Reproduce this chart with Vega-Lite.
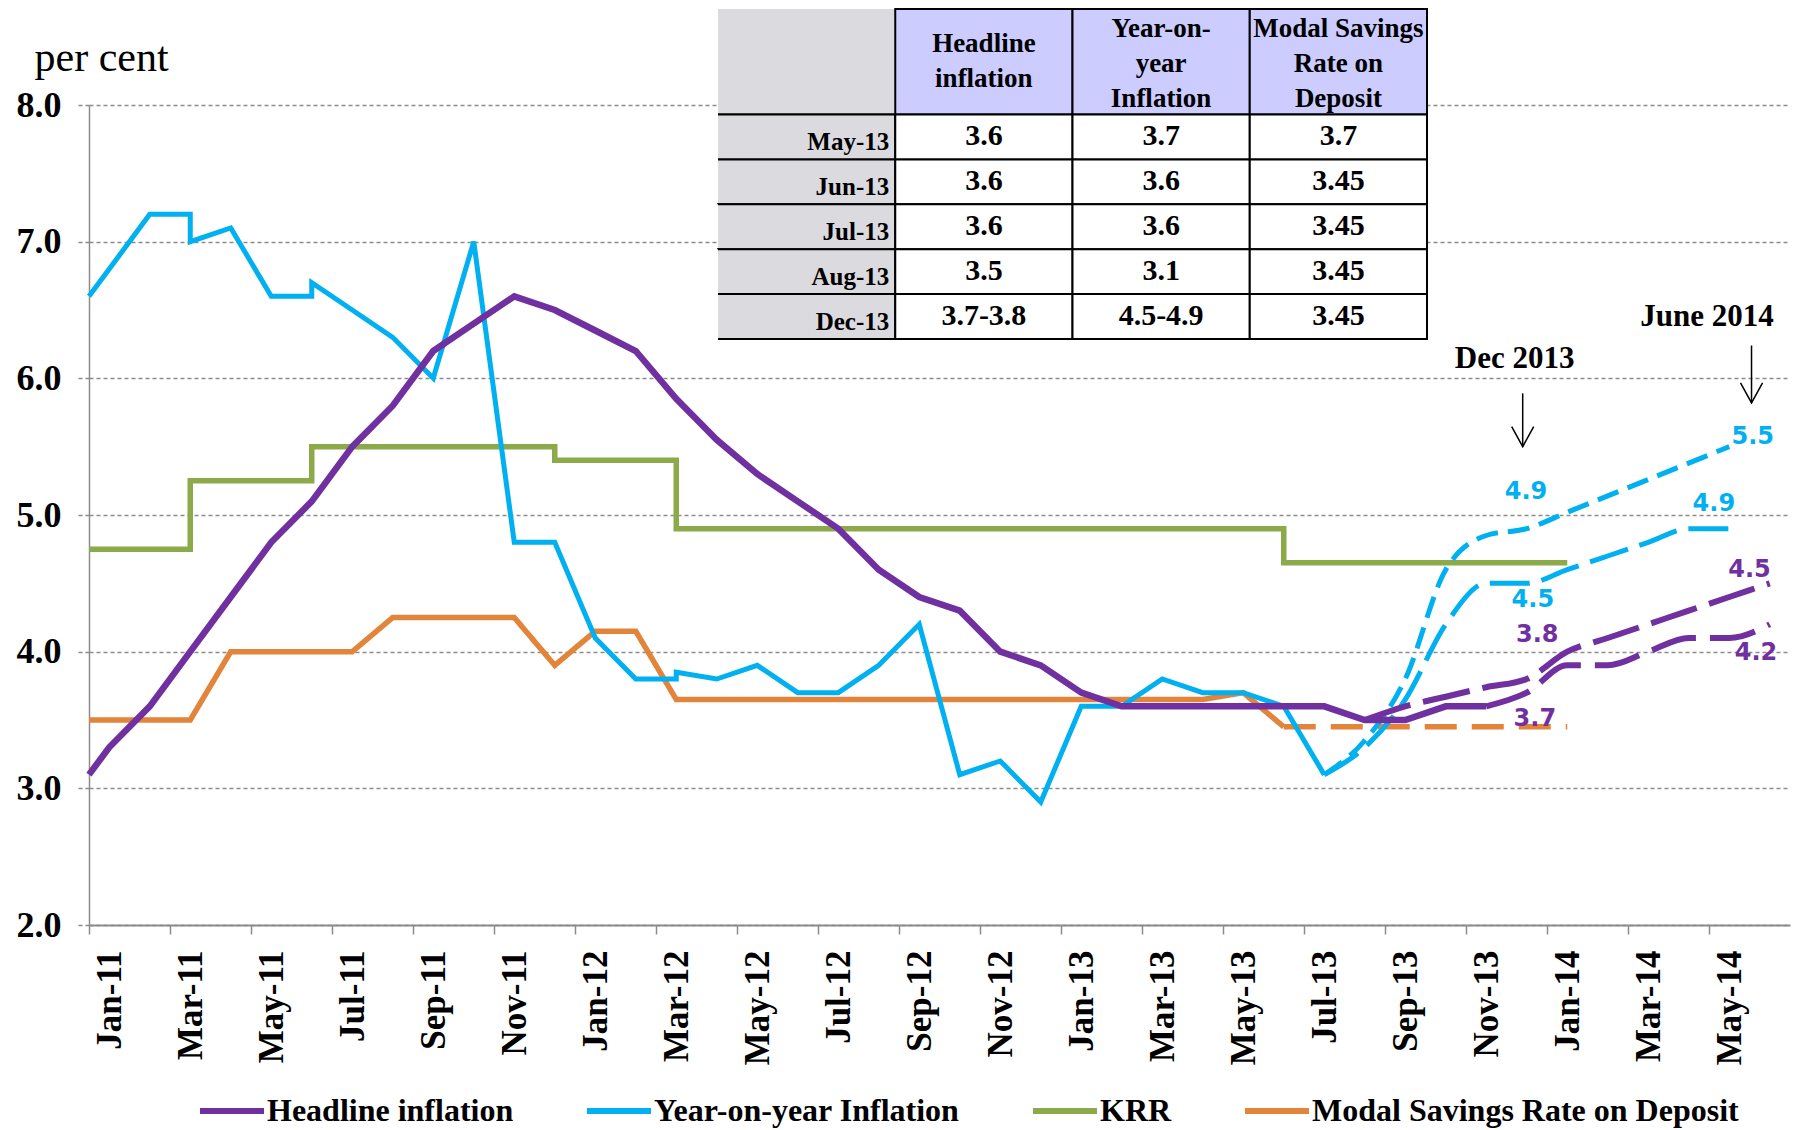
{
  "$schema": "https://vega.github.io/schema/vega-lite/v6.json",
  "width": 1701,
  "height": 820,
  "autosize": {"type": "none"},
  "padding": {"left": 89, "top": 105, "right": 5, "bottom": 205},
  "background": "#ffffff",
  "config": {
    "view": {"stroke": null},
    "font": "Liberation Serif",
    "axis": {"labelFont": "Liberation Serif", "labelFontWeight": "bold", "labelColor": "#000000", "titleColor": "#000000"}
  },
  "datasets": {
    "headline": [
      {"series": "Headline inflation", "t": 0, "v": 3.1},
      {"series": "Headline inflation", "t": 0.5, "v": 3.3},
      {"series": "Headline inflation", "t": 1.5, "v": 3.6},
      {"series": "Headline inflation", "t": 2.5, "v": 4.0},
      {"series": "Headline inflation", "t": 3.5, "v": 4.4},
      {"series": "Headline inflation", "t": 4.5, "v": 4.8},
      {"series": "Headline inflation", "t": 5.5, "v": 5.1},
      {"series": "Headline inflation", "t": 6.5, "v": 5.5},
      {"series": "Headline inflation", "t": 7.5, "v": 5.8},
      {"series": "Headline inflation", "t": 8.5, "v": 6.2},
      {"series": "Headline inflation", "t": 9.5, "v": 6.4},
      {"series": "Headline inflation", "t": 10.5, "v": 6.6},
      {"series": "Headline inflation", "t": 11.5, "v": 6.5},
      {"series": "Headline inflation", "t": 12.5, "v": 6.35},
      {"series": "Headline inflation", "t": 13.5, "v": 6.2},
      {"series": "Headline inflation", "t": 14.5, "v": 5.85},
      {"series": "Headline inflation", "t": 15.5, "v": 5.55},
      {"series": "Headline inflation", "t": 16.5, "v": 5.3},
      {"series": "Headline inflation", "t": 17.5, "v": 5.1},
      {"series": "Headline inflation", "t": 18.5, "v": 4.9},
      {"series": "Headline inflation", "t": 19.5, "v": 4.6},
      {"series": "Headline inflation", "t": 20.5, "v": 4.4},
      {"series": "Headline inflation", "t": 21.5, "v": 4.3},
      {"series": "Headline inflation", "t": 22.5, "v": 4.0},
      {"series": "Headline inflation", "t": 23.5, "v": 3.9},
      {"series": "Headline inflation", "t": 24.5, "v": 3.7},
      {"series": "Headline inflation", "t": 25.5, "v": 3.6},
      {"series": "Headline inflation", "t": 26.5, "v": 3.6},
      {"series": "Headline inflation", "t": 27.5, "v": 3.6},
      {"series": "Headline inflation", "t": 28.5, "v": 3.6},
      {"series": "Headline inflation", "t": 29.5, "v": 3.6},
      {"series": "Headline inflation", "t": 30.5, "v": 3.6},
      {"series": "Headline inflation", "t": 31.5, "v": 3.5},
      {"series": "Headline inflation", "t": 32.5, "v": 3.5},
      {"series": "Headline inflation", "t": 33.5, "v": 3.6},
      {"series": "Headline inflation", "t": 34.5, "v": 3.6}
    ],
    "headline_fc": [
      {"series": "Headline inflation", "path": "lower", "t": 34.5, "v": 3.6},
      {"series": "Headline inflation", "path": "lower", "t": 35.5, "v": 3.7},
      {"series": "Headline inflation", "path": "lower", "t": 36.5, "v": 3.9},
      {"series": "Headline inflation", "path": "lower", "t": 37.5, "v": 3.9},
      {"series": "Headline inflation", "path": "lower", "t": 38.5, "v": 4.0},
      {"series": "Headline inflation", "path": "lower", "t": 39.5, "v": 4.1},
      {"series": "Headline inflation", "path": "lower", "t": 40.5, "v": 4.1},
      {"series": "Headline inflation", "path": "lower", "t": 41.5, "v": 4.2},
      {"series": "Headline inflation", "path": "upper", "t": 31.5, "v": 3.5},
      {"series": "Headline inflation", "path": "upper", "t": 32.5, "v": 3.6},
      {"series": "Headline inflation", "path": "upper", "t": 33.5, "v": 3.67},
      {"series": "Headline inflation", "path": "upper", "t": 34.5, "v": 3.74},
      {"series": "Headline inflation", "path": "upper", "t": 35.5, "v": 3.8},
      {"series": "Headline inflation", "path": "upper", "t": 36.5, "v": 4.0},
      {"series": "Headline inflation", "path": "upper", "t": 37.5, "v": 4.1},
      {"series": "Headline inflation", "path": "upper", "t": 38.5, "v": 4.2},
      {"series": "Headline inflation", "path": "upper", "t": 39.5, "v": 4.3},
      {"series": "Headline inflation", "path": "upper", "t": 40.5, "v": 4.4},
      {"series": "Headline inflation", "path": "upper", "t": 41.5, "v": 4.5}
    ],
    "yoy": [
      {"series": "Year-on-year Inflation", "t": 0, "v": 6.6},
      {"series": "Year-on-year Inflation", "t": 1.5, "v": 7.2},
      {"series": "Year-on-year Inflation", "t": 2.5, "v": 7.2},
      {"series": "Year-on-year Inflation", "t": 2.5, "v": 7.0},
      {"series": "Year-on-year Inflation", "t": 3.5, "v": 7.1},
      {"series": "Year-on-year Inflation", "t": 4.5, "v": 6.6},
      {"series": "Year-on-year Inflation", "t": 5.5, "v": 6.6},
      {"series": "Year-on-year Inflation", "t": 5.5, "v": 6.7},
      {"series": "Year-on-year Inflation", "t": 6.5, "v": 6.5},
      {"series": "Year-on-year Inflation", "t": 7.5, "v": 6.3},
      {"series": "Year-on-year Inflation", "t": 8.5, "v": 6.0},
      {"series": "Year-on-year Inflation", "t": 9.5, "v": 7.0},
      {"series": "Year-on-year Inflation", "t": 10.5, "v": 4.8},
      {"series": "Year-on-year Inflation", "t": 11.5, "v": 4.8},
      {"series": "Year-on-year Inflation", "t": 12.5, "v": 4.1},
      {"series": "Year-on-year Inflation", "t": 13.5, "v": 3.8},
      {"series": "Year-on-year Inflation", "t": 14.5, "v": 3.8},
      {"series": "Year-on-year Inflation", "t": 14.5, "v": 3.85},
      {"series": "Year-on-year Inflation", "t": 15.5, "v": 3.8},
      {"series": "Year-on-year Inflation", "t": 16.5, "v": 3.9},
      {"series": "Year-on-year Inflation", "t": 17.5, "v": 3.7},
      {"series": "Year-on-year Inflation", "t": 18.5, "v": 3.7},
      {"series": "Year-on-year Inflation", "t": 19.5, "v": 3.9},
      {"series": "Year-on-year Inflation", "t": 20.5, "v": 4.2},
      {"series": "Year-on-year Inflation", "t": 21.5, "v": 3.1},
      {"series": "Year-on-year Inflation", "t": 22.5, "v": 3.2},
      {"series": "Year-on-year Inflation", "t": 23.5, "v": 2.9},
      {"series": "Year-on-year Inflation", "t": 24.5, "v": 3.6},
      {"series": "Year-on-year Inflation", "t": 25.5, "v": 3.6},
      {"series": "Year-on-year Inflation", "t": 26.5, "v": 3.8},
      {"series": "Year-on-year Inflation", "t": 27.5, "v": 3.7},
      {"series": "Year-on-year Inflation", "t": 28.5, "v": 3.7},
      {"series": "Year-on-year Inflation", "t": 29.5, "v": 3.6},
      {"series": "Year-on-year Inflation", "t": 30.5, "v": 3.1}
    ],
    "yoy_fc": [
      {"series": "Year-on-year Inflation", "path": "upper", "t": 30.5, "v": 3.1},
      {"series": "Year-on-year Inflation", "path": "upper", "t": 31.5, "v": 3.35},
      {"series": "Year-on-year Inflation", "path": "upper", "t": 32.5, "v": 3.8},
      {"series": "Year-on-year Inflation", "path": "upper", "t": 33.5, "v": 4.6},
      {"series": "Year-on-year Inflation", "path": "upper", "t": 34.5, "v": 4.85},
      {"series": "Year-on-year Inflation", "path": "upper", "t": 35.5, "v": 4.9},
      {"series": "Year-on-year Inflation", "path": "upper", "t": 36.5, "v": 5.02},
      {"series": "Year-on-year Inflation", "path": "upper", "t": 37.5, "v": 5.14},
      {"series": "Year-on-year Inflation", "path": "upper", "t": 38.5, "v": 5.26},
      {"series": "Year-on-year Inflation", "path": "upper", "t": 39.5, "v": 5.38},
      {"series": "Year-on-year Inflation", "path": "upper", "t": 40.5, "v": 5.5},
      {"series": "Year-on-year Inflation", "path": "lower", "t": 30.5, "v": 3.1},
      {"series": "Year-on-year Inflation", "path": "lower", "t": 31.5, "v": 3.3},
      {"series": "Year-on-year Inflation", "path": "lower", "t": 32.5, "v": 3.65},
      {"series": "Year-on-year Inflation", "path": "lower", "t": 33.5, "v": 4.2},
      {"series": "Year-on-year Inflation", "path": "lower", "t": 34.5, "v": 4.5},
      {"series": "Year-on-year Inflation", "path": "lower", "t": 35.5, "v": 4.5},
      {"series": "Year-on-year Inflation", "path": "lower", "t": 36.5, "v": 4.6},
      {"series": "Year-on-year Inflation", "path": "lower", "t": 37.5, "v": 4.7},
      {"series": "Year-on-year Inflation", "path": "lower", "t": 38.5, "v": 4.8},
      {"series": "Year-on-year Inflation", "path": "lower", "t": 39.5, "v": 4.9},
      {"series": "Year-on-year Inflation", "path": "lower", "t": 40.5, "v": 4.9}
    ],
    "krr": [
      {"series": "KRR", "t": 0, "v": 4.75},
      {"series": "KRR", "t": 2.5, "v": 5.25},
      {"series": "KRR", "t": 5.5, "v": 5.5},
      {"series": "KRR", "t": 11.5, "v": 5.4},
      {"series": "KRR", "t": 14.5, "v": 4.9},
      {"series": "KRR", "t": 29.5, "v": 4.65},
      {"series": "KRR", "t": 36.5, "v": 4.65}
    ],
    "savings": [
      {"series": "Modal Savings Rate on Deposit", "part": "actual", "t": 0, "v": 3.5},
      {"series": "Modal Savings Rate on Deposit", "part": "actual", "t": 2.5, "v": 3.5},
      {"series": "Modal Savings Rate on Deposit", "part": "actual", "t": 3.5, "v": 4.0},
      {"series": "Modal Savings Rate on Deposit", "part": "actual", "t": 6.5, "v": 4.0},
      {"series": "Modal Savings Rate on Deposit", "part": "actual", "t": 7.5, "v": 4.25},
      {"series": "Modal Savings Rate on Deposit", "part": "actual", "t": 10.5, "v": 4.25},
      {"series": "Modal Savings Rate on Deposit", "part": "actual", "t": 11.5, "v": 3.9},
      {"series": "Modal Savings Rate on Deposit", "part": "actual", "t": 12.5, "v": 4.15},
      {"series": "Modal Savings Rate on Deposit", "part": "actual", "t": 13.5, "v": 4.15},
      {"series": "Modal Savings Rate on Deposit", "part": "actual", "t": 14.5, "v": 3.65},
      {"series": "Modal Savings Rate on Deposit", "part": "actual", "t": 27.5, "v": 3.65},
      {"series": "Modal Savings Rate on Deposit", "part": "actual", "t": 28.5, "v": 3.7},
      {"series": "Modal Savings Rate on Deposit", "part": "actual", "t": 29.5, "v": 3.45},
      {"series": "Modal Savings Rate on Deposit", "part": "projected", "t": 29.5, "v": 3.45},
      {"series": "Modal Savings Rate on Deposit", "part": "projected", "t": 36.5, "v": 3.45}
    ],
    "arrows": [
      {"label": "Dec 2013", "t": 35.4, "v": 5.5, "top": 5.89},
      {"label": "June 2014", "t": 41.05, "v": 5.82, "top": 6.24}
    ],
    "captions": [
      {"label": "Dec 2013", "t": 35.2, "v": 6.14},
      {"label": "June 2014", "t": 39.95, "v": 6.45}
    ],
    "value_labels": [
      {"series": "Year-on-year Inflation", "text": "4.9", "t": 35.48, "v": 5.17},
      {"series": "Year-on-year Inflation", "text": "5.5", "t": 41.08, "v": 5.57},
      {"series": "Year-on-year Inflation", "text": "4.9", "t": 40.12, "v": 5.08},
      {"series": "Year-on-year Inflation", "text": "4.5", "t": 35.65, "v": 4.38},
      {"series": "Headline inflation", "text": "3.8", "t": 35.76, "v": 4.12},
      {"series": "Headline inflation", "text": "4.5", "t": 41.0, "v": 4.6},
      {"series": "Headline inflation", "text": "4.2", "t": 41.16, "v": 3.99},
      {"series": "Headline inflation", "text": "3.7", "t": 35.7, "v": 3.51}
    ],
    "table_head": [
      {"row": "Header", "col": "Month", "text": ""},
      {"row": "Header", "col": "Headline", "text": "Headline\ninflation"},
      {"row": "Header", "col": "YoY", "text": "Year-on-\nyear\nInflation"},
      {"row": "Header", "col": "Savings", "text": "Modal Savings\nRate on\nDeposit"}
    ],
    "table_cells": [
      {"row": "May-13", "col": "Month", "text": "May-13"},
      {"row": "May-13", "col": "Headline", "text": "3.6"},
      {"row": "May-13", "col": "YoY", "text": "3.7"},
      {"row": "May-13", "col": "Savings", "text": "3.7"},
      {"row": "Jun-13", "col": "Month", "text": "Jun-13"},
      {"row": "Jun-13", "col": "Headline", "text": "3.6"},
      {"row": "Jun-13", "col": "YoY", "text": "3.6"},
      {"row": "Jun-13", "col": "Savings", "text": "3.45"},
      {"row": "Jul-13", "col": "Month", "text": "Jul-13"},
      {"row": "Jul-13", "col": "Headline", "text": "3.6"},
      {"row": "Jul-13", "col": "YoY", "text": "3.6"},
      {"row": "Jul-13", "col": "Savings", "text": "3.45"},
      {"row": "Aug-13", "col": "Month", "text": "Aug-13"},
      {"row": "Aug-13", "col": "Headline", "text": "3.5"},
      {"row": "Aug-13", "col": "YoY", "text": "3.1"},
      {"row": "Aug-13", "col": "Savings", "text": "3.45"},
      {"row": "Dec-13", "col": "Month", "text": "Dec-13"},
      {"row": "Dec-13", "col": "Headline", "text": "3.7-3.8"},
      {"row": "Dec-13", "col": "YoY", "text": "4.5-4.9"},
      {"row": "Dec-13", "col": "Savings", "text": "3.45"}
    ]
  },
  "layer": [
    {
      "encoding": {
        "x": {
          "field": "t", "type": "quantitative",
          "scale": {"domain": [0, 42], "nice": false, "zero": false},
          "axis": {
            "title": null,
            "values": [0, 2, 4, 6, 8, 10, 12, 14, 16, 18, 20, 22, 24, 26, 28, 30, 32, 34, 36, 38, 40],
            "labelExpr": "['Jan','Feb','Mar','Apr','May','Jun','Jul','Aug','Sep','Oct','Nov','Dec'][datum.value % 12] + '-' + (11 + floor(datum.value / 12))",
            "labelAngle": -90,
            "labelOffset": 20,
            "labelPadding": 16,
            "labelFontSize": 35,
            "labelOverlap": false,
            "labelFlush": false,
            "labelBound": false,
            "grid": false,
            "tickSize": 9,
            "tickColor": "#8c8c8c",
            "tickWidth": 1.5,
            "domainColor": "#8c8c8c",
            "domainWidth": 2
          }
        },
        "y": {
          "field": "v", "type": "quantitative",
          "scale": {"domain": [2, 8], "nice": false, "zero": false},
          "axis": {
            "values": [2, 3, 4, 5, 6, 7, 8],
            "format": ".1f",
            "labelFontSize": 36,
            "labelPadding": 17,
            "tickSize": 11,
            "tickDash": [4, 3],
            "tickColor": "#8c8c8c",
            "tickWidth": 1.5,
            "grid": true,
            "gridColor": "#8c8c8c",
            "gridDash": [4, 3],
            "gridWidth": 1.5,
            "domainColor": "#8c8c8c",
            "domainWidth": 1.5,
            "title": "per cent",
            "titleFont": "Liberation Serif",
            "titleFontWeight": "normal",
            "titleFontSize": 42,
            "titleAngle": 0,
            "titleAlign": "left",
            "titleBaseline": "alphabetic",
            "titleX": -55,
            "titleY": -35
          }
        }
      },
      "layer": [
        {
          "data": {"name": "krr"},
          "mark": {"type": "line", "interpolate": "step-after", "strokeWidth": 5.5},
          "encoding": {
            "color": {
              "field": "series", "type": "nominal",
              "scale": {"domain": ["Headline inflation", "Year-on-year Inflation", "KRR", "Modal Savings Rate on Deposit"], "range": ["#7030A0", "#00B0F0", "#8CAA4A", "#E2843A"]},
              "legend": {"orient": "none", "legendX": 108, "legendY": 971, "direction": "horizontal", "title": null, "symbolType": "stroke", "symbolSize": 4096, "symbolStrokeWidth": 6, "labelFont": "Liberation Serif", "labelFontWeight": "bold", "labelFontSize": 32, "labelColor": "#000000", "labelOffset": 0, "columnPadding": 61, "labelLimit": 600, "padding": 0}
            }
          }
        },
        {
          "data": {"name": "savings"},
          "mark": {"type": "line", "strokeWidth": 5.5},
          "encoding": {
            "detail": {"field": "part"},
            "strokeDash": {"field": "part", "type": "nominal", "scale": {"domain": ["actual", "projected"], "range": [[1, 0], [32, 15]]}, "legend": null},
            "color": {
              "field": "series", "type": "nominal",
              "scale": {"domain": ["Headline inflation", "Year-on-year Inflation", "KRR", "Modal Savings Rate on Deposit"], "range": ["#7030A0", "#00B0F0", "#8CAA4A", "#E2843A"]},
              "legend": {"orient": "none", "legendX": 108, "legendY": 971, "direction": "horizontal", "title": null, "symbolType": "stroke", "symbolSize": 4096, "symbolStrokeWidth": 6, "labelFont": "Liberation Serif", "labelFontWeight": "bold", "labelFontSize": 32, "labelColor": "#000000", "labelOffset": 0, "columnPadding": 61, "labelLimit": 600, "padding": 0}
            }
          }
        },
        {
          "data": {"name": "yoy"},
          "mark": {"type": "line", "strokeWidth": 5},
          "encoding": {
            "order": {"value": null},
            "color": {
              "field": "series", "type": "nominal",
              "scale": {"domain": ["Headline inflation", "Year-on-year Inflation", "KRR", "Modal Savings Rate on Deposit"], "range": ["#7030A0", "#00B0F0", "#8CAA4A", "#E2843A"]},
              "legend": {"orient": "none", "legendX": 108, "legendY": 971, "direction": "horizontal", "title": null, "symbolType": "stroke", "symbolSize": 4096, "symbolStrokeWidth": 6, "labelFont": "Liberation Serif", "labelFontWeight": "bold", "labelFontSize": 32, "labelColor": "#000000", "labelOffset": 0, "columnPadding": 61, "labelLimit": 600, "padding": 0}
            }
          }
        },
        {
          "data": {"name": "yoy_fc"},
          "mark": {"type": "line", "interpolate": "monotone", "strokeWidth": 5},
          "encoding": {
            "detail": {"field": "path"},
            "strokeDash": {"field": "path", "type": "nominal", "scale": {"domain": ["upper", "lower"], "range": [[22, 10], [40, 12]]}, "legend": null},
            "color": {
              "field": "series", "type": "nominal",
              "scale": {"domain": ["Headline inflation", "Year-on-year Inflation", "KRR", "Modal Savings Rate on Deposit"], "range": ["#7030A0", "#00B0F0", "#8CAA4A", "#E2843A"]},
              "legend": {"orient": "none", "legendX": 108, "legendY": 971, "direction": "horizontal", "title": null, "symbolType": "stroke", "symbolSize": 4096, "symbolStrokeWidth": 6, "labelFont": "Liberation Serif", "labelFontWeight": "bold", "labelFontSize": 32, "labelColor": "#000000", "labelOffset": 0, "columnPadding": 61, "labelLimit": 600, "padding": 0}
            }
          }
        },
        {
          "data": {"name": "headline"},
          "mark": {"type": "line", "strokeWidth": 6.5},
          "encoding": {
            "color": {
              "field": "series", "type": "nominal",
              "scale": {"domain": ["Headline inflation", "Year-on-year Inflation", "KRR", "Modal Savings Rate on Deposit"], "range": ["#7030A0", "#00B0F0", "#8CAA4A", "#E2843A"]},
              "legend": {"orient": "none", "legendX": 108, "legendY": 971, "direction": "horizontal", "title": null, "symbolType": "stroke", "symbolSize": 4096, "symbolStrokeWidth": 6, "labelFont": "Liberation Serif", "labelFontWeight": "bold", "labelFontSize": 32, "labelColor": "#000000", "labelOffset": 0, "columnPadding": 61, "labelLimit": 600, "padding": 0}
            }
          }
        },
        {
          "data": {"name": "headline_fc"},
          "mark": {"type": "line", "interpolate": "monotone", "strokeWidth": 6},
          "encoding": {
            "detail": {"field": "path"},
            "strokeDash": {"field": "path", "type": "nominal", "scale": {"domain": ["upper", "lower"], "range": [[48, 13], [46, 14]]}, "legend": null},
            "color": {
              "field": "series", "type": "nominal",
              "scale": {"domain": ["Headline inflation", "Year-on-year Inflation", "KRR", "Modal Savings Rate on Deposit"], "range": ["#7030A0", "#00B0F0", "#8CAA4A", "#E2843A"]},
              "legend": {"orient": "none", "legendX": 108, "legendY": 971, "direction": "horizontal", "title": null, "symbolType": "stroke", "symbolSize": 4096, "symbolStrokeWidth": 6, "labelFont": "Liberation Serif", "labelFontWeight": "bold", "labelFontSize": 32, "labelColor": "#000000", "labelOffset": 0, "columnPadding": 61, "labelLimit": 600, "padding": 0}
            }
          }
        },
        {
          "data": {"name": "arrows"},
          "mark": {"type": "rule", "color": "#000000", "strokeWidth": 1.5},
          "encoding": {"y2": {"field": "top"}}
        },
        {
          "data": {"name": "arrows"},
          "mark": {"type": "point", "shape": "M-0.55,-1L0,0L0.55,-1", "filled": false, "stroke": "#000000", "strokeWidth": 1.5, "size": 1600, "opacity": 1}
        },
        {
          "data": {"name": "captions"},
          "mark": {"type": "text", "font": "Liberation Serif", "fontWeight": "bold", "fontSize": 31, "color": "#000000", "align": "center", "baseline": "middle"},
          "encoding": {"text": {"field": "label"}}
        },
        {
          "data": {"name": "value_labels"},
          "transform": [{"filter": "datum.series === 'Year-on-year Inflation'"}],
          "mark": {"type": "text", "font": "DejaVu Sans", "fontWeight": "bold", "fontSize": 24, "color": "#00B0F0", "align": "center", "baseline": "middle"},
          "encoding": {"text": {"field": "text"}}
        },
        {
          "data": {"name": "value_labels"},
          "transform": [{"filter": "datum.series === 'Headline inflation'"}],
          "mark": {"type": "text", "font": "DejaVu Sans", "fontWeight": "bold", "fontSize": 24, "color": "#7030A0", "align": "center", "baseline": "middle"},
          "encoding": {"text": {"field": "text"}}
        }
      ],
      "resolve": {"scale": {"strokeDash": "independent"}}
    },
    {
      "layer": [
        {
          "data": {"name": "table_head"},
          "transform": [{"filter": "datum.col === 'Month'"}],
          "mark": {"type": "rect", "fill": "#dbdadf", "stroke": "#000000", "strokeWidth": 2, "strokeDash": [0, 282.75, 177.25, 105.5]},
          "encoding": {
            "x": {"field": "col", "type": "nominal", "scale": {"type": "band", "domain": ["Month", "Headline", "YoY", "Savings"], "range": [629, 1338], "paddingInner": 0, "paddingOuter": 0}, "axis": null},
            "y": {"field": "row", "type": "nominal", "scale": {"type": "band", "domain": ["Header"], "range": [-96, 9.5], "paddingInner": 0, "paddingOuter": 0}, "axis": null}
          }
        },
        {
          "data": {"name": "table_head"},
          "transform": [{"filter": "datum.col !== 'Month'"}],
          "mark": {"type": "rect", "fill": "#ccccff", "stroke": "#000000", "strokeWidth": 2},
          "encoding": {
            "x": {"field": "col", "type": "nominal", "scale": {"type": "band", "domain": ["Month", "Headline", "YoY", "Savings"], "range": [629, 1338], "paddingInner": 0, "paddingOuter": 0}, "axis": null},
            "y": {"field": "row", "type": "nominal", "scale": {"type": "band", "domain": ["Header"], "range": [-96, 9.5], "paddingInner": 0, "paddingOuter": 0}, "axis": null}
          }
        },
        {
          "data": {"name": "table_head"},
          "transform": [{"filter": "datum.col === 'Headline'"}],
          "mark": {"type": "text", "font": "Liberation Serif", "fontWeight": "bold", "fontSize": 27, "lineHeight": 35, "lineBreak": "\n", "color": "#000000", "align": "center", "baseline": "middle", "dy": -17.5},
          "encoding": {
            "x": {"field": "col", "type": "nominal", "scale": {"type": "band", "domain": ["Month", "Headline", "YoY", "Savings"], "range": [629, 1338], "paddingInner": 0, "paddingOuter": 0}, "axis": null},
            "y": {"field": "row", "type": "nominal", "scale": {"type": "band", "domain": ["Header"], "range": [-96, 9.5], "paddingInner": 0, "paddingOuter": 0}, "axis": null},
            "text": {"field": "text"}
          }
        },
        {
          "data": {"name": "table_head"},
          "transform": [{"filter": "datum.col === 'YoY' || datum.col === 'Savings'"}],
          "mark": {"type": "text", "font": "Liberation Serif", "fontWeight": "bold", "fontSize": 27, "lineHeight": 35, "lineBreak": "\n", "color": "#000000", "align": "center", "baseline": "middle", "dy": -33},
          "encoding": {
            "x": {"field": "col", "type": "nominal", "scale": {"type": "band", "domain": ["Month", "Headline", "YoY", "Savings"], "range": [629, 1338], "paddingInner": 0, "paddingOuter": 0}, "axis": null},
            "y": {"field": "row", "type": "nominal", "scale": {"type": "band", "domain": ["Header"], "range": [-96, 9.5], "paddingInner": 0, "paddingOuter": 0}, "axis": null},
            "text": {"field": "text"}
          }
        },
        {
          "data": {"name": "table_cells"},
          "transform": [{"filter": "datum.col === 'Month'"}],
          "mark": {"type": "rect", "fill": "#dbdadf", "stroke": "#000000", "strokeWidth": 2, "strokeDash": [399.4, 44.9]},
          "encoding": {
            "x": {"field": "col", "type": "nominal", "scale": {"type": "band", "domain": ["Month", "Headline", "YoY", "Savings"], "range": [629, 1338], "paddingInner": 0, "paddingOuter": 0}, "axis": null},
            "y": {"field": "row", "type": "nominal", "scale": {"type": "band", "domain": ["May-13", "Jun-13", "Jul-13", "Aug-13", "Dec-13"], "range": [9.5, 234], "paddingInner": 0, "paddingOuter": 0}, "axis": null}
          }
        },
        {
          "data": {"name": "table_cells"},
          "transform": [{"filter": "datum.col !== 'Month'"}],
          "mark": {"type": "rect", "fill": "#ffffff", "stroke": "#000000", "strokeWidth": 2},
          "encoding": {
            "x": {"field": "col", "type": "nominal", "scale": {"type": "band", "domain": ["Month", "Headline", "YoY", "Savings"], "range": [629, 1338], "paddingInner": 0, "paddingOuter": 0}, "axis": null},
            "y": {"field": "row", "type": "nominal", "scale": {"type": "band", "domain": ["May-13", "Jun-13", "Jul-13", "Aug-13", "Dec-13"], "range": [9.5, 234], "paddingInner": 0, "paddingOuter": 0}, "axis": null}
          }
        },
        {
          "data": {"name": "table_cells"},
          "transform": [{"filter": "datum.col === 'Month'"}],
          "mark": {"type": "text", "font": "Liberation Serif", "fontWeight": "bold", "fontSize": 25, "color": "#000000", "align": "right", "baseline": "middle", "dx": -6, "dy": 5},
          "encoding": {
            "x": {"field": "col", "type": "nominal", "bandPosition": 1, "scale": {"type": "band", "domain": ["Month", "Headline", "YoY", "Savings"], "range": [629, 1338], "paddingInner": 0, "paddingOuter": 0}, "axis": null},
            "y": {"field": "row", "type": "nominal", "scale": {"type": "band", "domain": ["May-13", "Jun-13", "Jul-13", "Aug-13", "Dec-13"], "range": [9.5, 234], "paddingInner": 0, "paddingOuter": 0}, "axis": null},
            "text": {"field": "text"}
          }
        },
        {
          "data": {"name": "table_cells"},
          "transform": [{"filter": "datum.col !== 'Month'"}],
          "mark": {"type": "text", "font": "Liberation Serif", "fontWeight": "bold", "fontSize": 30, "color": "#000000", "align": "center", "baseline": "middle", "dy": -1},
          "encoding": {
            "x": {"field": "col", "type": "nominal", "scale": {"type": "band", "domain": ["Month", "Headline", "YoY", "Savings"], "range": [629, 1338], "paddingInner": 0, "paddingOuter": 0}, "axis": null},
            "y": {"field": "row", "type": "nominal", "scale": {"type": "band", "domain": ["May-13", "Jun-13", "Jul-13", "Aug-13", "Dec-13"], "range": [9.5, 234], "paddingInner": 0, "paddingOuter": 0}, "axis": null},
            "text": {"field": "text"}
          }
        }
      ],
      "resolve": {"scale": {"x": "independent", "y": "independent"}}
    }
  ],
  "resolve": {"scale": {"x": "independent", "y": "independent"}}
}
